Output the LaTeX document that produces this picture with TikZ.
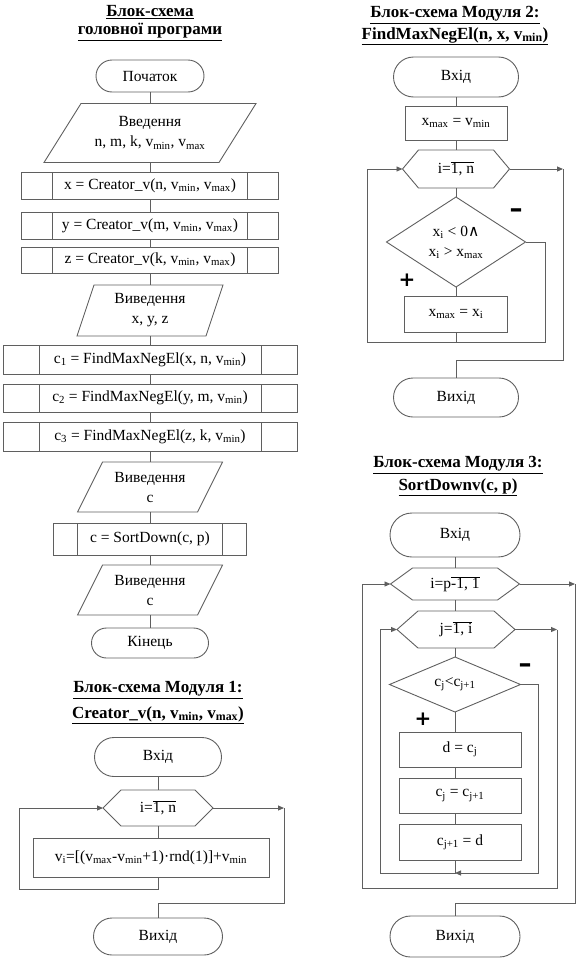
\documentclass[tikz,border=0pt]{standalone}
\usepackage{fontspec}
\setmainfont{Liberation Serif}
\newfontfamily\djv{DejaVu Serif}
\newfontfamily\djs{DejaVu Sans}
\usetikzlibrary{arrows.meta,calc}
\definecolor{lc}{RGB}{95,95,95}
\tikzset{
  base/.style={inner sep=0pt, outer sep=0pt, align=center, font=\fontsize{15.5}{20}\selectfont},
  ttl/.style={inner sep=0pt, outer sep=0pt, align=center, font=\fontsize{17}{20}\selectfont\bfseries},
  term/.style={base, draw=lc, line width=0.9pt},
  proc/.style={base, draw=lc, line width=0.9pt},
  sl/.style={draw=lc, line width=0.9pt},
  cn/.style={draw=lc, line width=0.9pt},
  ar/.style={cn, -{Triangle[length=6pt,width=5pt]}},
  sign/.style={inner sep=0pt, font=\djs\fontsize{20}{20}\selectfont\bfseries},
  minus/.style={inner sep=0pt, font=\djs\fontsize{26}{26}\selectfont\bfseries},
}
\newcommand\iodraw[2]{\draw[sl] ([xshift=-#2]#1.south west) -- ([xshift=#2]#1.north west) -- ([xshift=#2]#1.north east) -- ([xshift=-#2]#1.south east) -- cycle;}
\newcommand\subdraw[2]{\draw[sl] ([xshift=#2]#1.north west) -- ([xshift=#2]#1.south west) ([xshift=-#2]#1.north east) -- ([xshift=-#2]#1.south east);}
\newcommand\hexdraw[2]{\draw[sl] (#1.west) -- ([xshift=#2]#1.north west) -- ([xshift=-#2]#1.north east) -- (#1.east) -- ([xshift=-#2]#1.south east) -- ([xshift=#2]#1.south west) -- cycle;}
\newcommand\diadraw[1]{\draw[sl] (#1.north) -- (#1.east) -- (#1.south) -- (#1.west) -- cycle;}
\newcommand\ovl[1]{$\overline{\hbox{#1}}$}
\begin{document}
\begin{tikzpicture}[x=1pt,y=-1pt]
\useasboundingbox (0,0) rectangle (584,964);
% ---------- main program ----------
\node[ttl] (t0a) at (150,12) {\underline{Блок-схема}};
\node[ttl] (t0b) at (150,32) {\underline{головної програми}};
\node[term, minimum width=108, minimum height=32, rounded corners=16pt] (start) at (150,76) {Початок};
\node[base, minimum width=175, minimum height=59] (in1) at (150,133) {Введення\\n, m, k, v\textsubscript{min}, v\textsubscript{max}};
\iodraw{in1}{18.5pt}
\node[proc, minimum width=257, minimum height=27] (px) at (150,185.5) {x = Creator\_v(n, v\textsubscript{min}, v\textsubscript{max})};
\subdraw{px}{31pt}
\node[proc, minimum width=257, minimum height=27] (py) at (150,225.5) {y = Creator\_v(m, v\textsubscript{min}, v\textsubscript{max})};
\subdraw{py}{31pt}
\node[proc, minimum width=257, minimum height=26] (pz) at (150,260) {z = Creator\_v(k, v\textsubscript{min}, v\textsubscript{max})};
\subdraw{pz}{31pt}
\node[base, minimum width=129, minimum height=51] (out1) at (150,310.5) {Виведення\\x, y, z};
\iodraw{out1}{8.5pt}
\node[proc, minimum width=294, minimum height=29] (c1) at (150,359.5) {c\textsubscript{1} = FindMaxNegEl(x, n, v\textsubscript{min})};
\subdraw{c1}{36pt}
\node[proc, minimum width=294, minimum height=28] (c2) at (150,398) {c\textsubscript{2} = FindMaxNegEl(y, m, v\textsubscript{min})};
\subdraw{c2}{36pt}
\node[proc, minimum width=294, minimum height=29] (c3) at (150,436.5) {c\textsubscript{3} = FindMaxNegEl(z, k, v\textsubscript{min})};
\subdraw{c3}{36pt}
\node[base, minimum width=120, minimum height=50] (out2) at (150,487) {Виведення\\c};
\iodraw{out2}{12.5pt}
\node[proc, minimum width=193, minimum height=32] (srt) at (150,539) {c = SortDown(c, p)};
\subdraw{srt}{24pt}
\node[base, minimum width=120, minimum height=50] (out3) at (150,590) {Виведення\\c};
\iodraw{out3}{12.5pt}
\node[term, minimum width=117, minimum height=30, rounded corners=15pt] (fin) at (150,643) {Кінець};
\draw[cn] (start.south) -- (in1.north);
\draw[cn] (in1.south) -- (px.north);
\draw[cn] (px.south) -- (py.north);
\draw[cn] (py.south) -- (pz.north);
\draw[cn] (pz.south) -- (out1.north);
\draw[cn] (out1.south) -- (c1.north);
\draw[cn] (c1.south) -- (c2.north);
\draw[cn] (c2.south) -- (c3.north);
\draw[cn] (c3.south) -- (out2.north);
\draw[cn] (out2.south) -- (srt.north);
\draw[cn] (srt.south) -- (out3.north);
\draw[cn] (out3.south) -- (fin.north);
% ---------- module 1 ----------
\node[ttl] (t1a) at (158,690) {\underline{Блок-схема Модуля 1:}};
\node[ttl] (t1b) at (158,715) {\underline{Creator\_v(n, v\textsubscript{min}, v\textsubscript{max})}};
\node[term, minimum width=127, minimum height=39, rounded corners=19.5pt] (m1in) at (158,757) {Вхід};
\node[base, minimum width=110, minimum height=36] (m1hex) at (158,808) {i=\ovl{1, n}};
\hexdraw{m1hex}{18pt}
\node[proc, minimum width=236, minimum height=39] (m1body) at (151,857.5) {v\textsubscript{i}=[(v\textsubscript{max}-v\textsubscript{min}+1)·rnd(1)]+v\textsubscript{min}};
\node[term, minimum width=129, minimum height=37, rounded corners=18.5pt] (m1out) at (158,936.5) {Вихід};
\coordinate (m1L) at (19,889);
\coordinate (m1R) at (284,903);
\draw[cn] (m1in.south) -- (m1hex.north);
\draw[cn] (m1hex.south) -- (m1hex.south |- m1body.north);
\draw[ar] (m1hex.south |- m1body.south) |- (m1L) |- (m1hex.west);
\draw[ar] (m1hex.east) -- (m1hex.east -| m1R);
\draw[cn] (m1hex.east -| m1R) -- (m1R) -| (m1out.north);
% ---------- module 2 ----------
\node[ttl] (t2a) at (455,15) {\underline{Блок-схема Модуля 2:}};
\node[ttl] (t2b) at (455,36) {\underline{FindMaxNegEl(n, x, v\textsubscript{min})}};
\node[term, minimum width=125, minimum height=40, rounded corners=20pt] (m2in) at (456,77) {Вхід};
\node[proc, minimum width=102, minimum height=34] (m2init) at (456,123) {x\textsubscript{max} = v\textsubscript{min}};
\node[base, minimum width=107, minimum height=38] (m2hex) at (456,169) {i=\ovl{1, n}};
\hexdraw{m2hex}{16pt}
\node[base, minimum width=139, minimum height=90] (m2dia) at (456,242) {x\textsubscript{i} < 0{\djv ∧}\\x\textsubscript{i} > x\textsubscript{max}};
\diadraw{m2dia}
\node[proc, minimum width=103, minimum height=36] (m2body) at (456,314) {x\textsubscript{max} = x\textsubscript{i}};
\node[term, minimum width=125, minimum height=39, rounded corners=19.5pt] (m2out) at (456,397.5) {Вихід};
\node[minus] (m2minus) at (516,213) {–};
\node[sign] (m2plus) at (407,280) {+};
\coordinate (m2L) at (367,342);
\coordinate (m2R) at (545,342);
\coordinate (m2E) at (563,360);
\draw[cn] (m2in.south) -- (m2init.north);
\draw[cn] (m2init.south) -- (m2hex.north);
\draw[cn] (m2hex.south) -- (m2dia.north);
\draw[cn] (m2dia.south) -- (m2body.north);
\draw[ar] (m2body.south) |- (m2L) |- (m2hex.west);
\draw[cn] (m2dia.east) -| (m2R) -- (m2body.south |- m2R);
\draw[ar] (m2hex.east) -- (m2hex.east -| m2E);
\draw[cn] (m2hex.east -| m2E) -- (m2E) -| (m2out.north);
% ---------- module 3 ----------
\node[ttl] (t3a) at (458,465) {\underline{Блок-схема Модуля 3:}};
\node[ttl] (t3b) at (458,487) {\underline{SortDownv(c, p)}};
\node[term, minimum width=130, minimum height=44, rounded corners=22pt] (m3in) at (455,535) {Вхід};
\node[base, minimum width=129, minimum height=32] (m3hi) at (455,584) {i=p\ovl{-1, 1}};
\hexdraw{m3hi}{22pt}
\node[base, minimum width=118, minimum height=37] (m3hj) at (456,629.5) {j=\ovl{1, i}};
\hexdraw{m3hj}{21pt}
\node[base, minimum width=131, minimum height=55] (m3dia) at (455,684.5) {c\textsubscript{j}<c\textsubscript{j+1}};
\diadraw{m3dia}
\node[proc, minimum width=122, minimum height=35] (m3r1) at (460,749.5) {d = c\textsubscript{j}};
\node[proc, minimum width=122, minimum height=35] (m3r2) at (460,795.5) {c\textsubscript{j} = c\textsubscript{j+1}};
\node[proc, minimum width=122, minimum height=36] (m3r3) at (460,842) {c\textsubscript{j+1} = d};
\node[term, minimum width=130, minimum height=41, rounded corners=20.5pt] (m3out) at (455,936.5) {Вихід};
\node[minus] (m3minus) at (525,668) {–};
\node[sign] (m3plus) at (423,719) {+};
\coordinate (m3jL) at (380,873);
\coordinate (m3jR) at (538,873);
\coordinate (m3iL) at (362,888);
\coordinate (m3jE) at (557,888);
\coordinate (m3iE) at (575,903);
\draw[cn] (m3in.south) -- (m3hi.north);
\draw[cn] (m3hi.south) -- (m3hi.south |- m3hj.north);
\draw[cn] (m3hi.south |- m3hj.south) -- (m3dia.north);
\draw[cn] (m3dia.south) -- (m3dia.south |- m3r1.north);
\draw[cn] (m3dia.south |- m3r1.south) -- (m3dia.south |- m3r2.north);
\draw[cn] (m3dia.south |- m3r2.south) -- (m3dia.south |- m3r3.north);
\draw[ar] (m3dia.south |- m3r3.south) |- (m3jL) |- (m3hj.west);
\draw[ar] (m3dia.east) -| (m3jR) -- (m3dia.south |- m3jR);
\draw[ar] (m3hj.east) -- (m3hj.east -| m3jE);
\draw[ar] (m3hj.east -| m3jE) -- (m3jE) -- (m3iL) |- (m3hi.west);
\draw[ar] (m3hi.east) -- (m3hi.east -| m3iE);
\draw[cn] (m3hi.east -| m3iE) -- (m3iE) -| (m3out.north);
\end{tikzpicture}
\end{document}
